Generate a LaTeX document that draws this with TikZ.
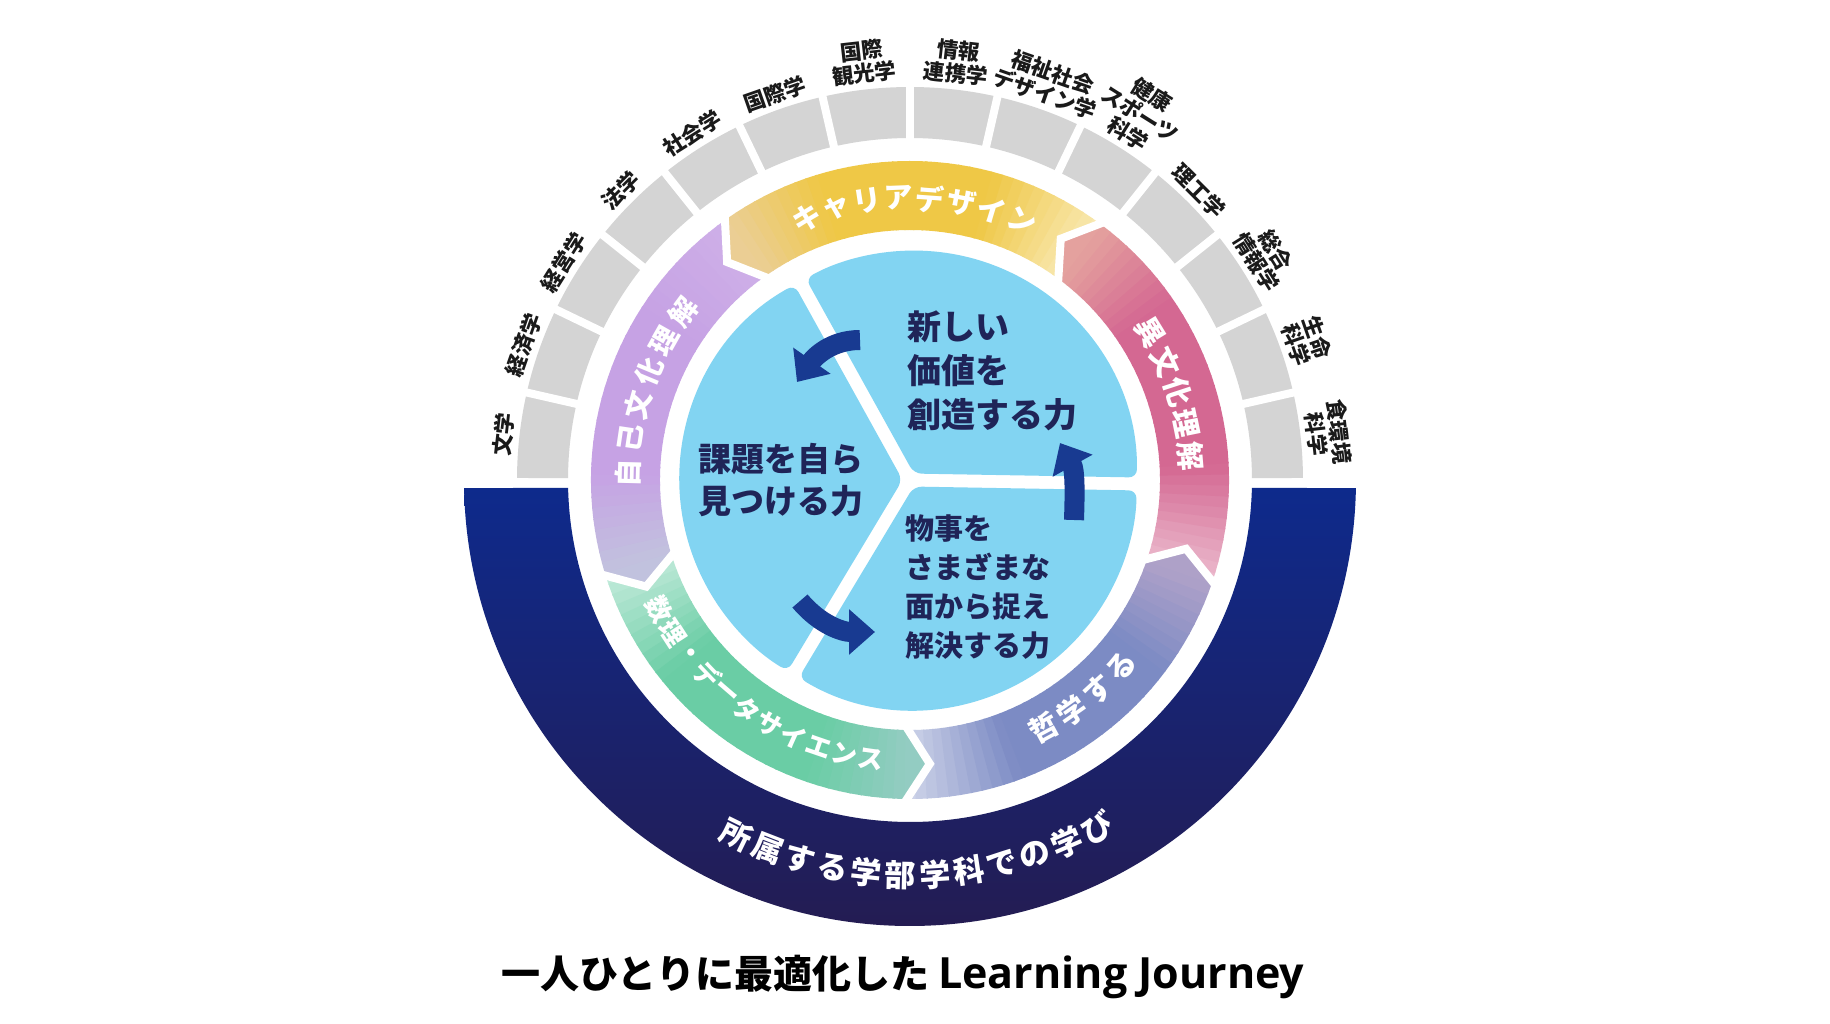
\documentclass[tikz,border=0pt]{standalone}
\usepackage{fontspec}
\setmainfont{Noto Sans CJK JP}
\newfontfamily\titlelatin{Open Sans}
\usetikzlibrary{arrows.meta}
\definecolor{ringY}{RGB}{239,200,70}
\definecolor{ringP}{RGB}{198,162,228}
\definecolor{ringG}{RGB}{106,205,165}
\definecolor{ringB}{RGB}{124,139,196}
\definecolor{ringR}{RGB}{212,104,146}
\definecolor{coreblue}{RGB}{130,212,242}
\definecolor{corenavy}{RGB}{31,36,88}
\definecolor{arrowblue}{RGB}{24,58,145}
\definecolor{bandtop}{RGB}{14,42,140}
\definecolor{bandmid}{RGB}{22,36,118}
\definecolor{bandbot}{RGB}{36,28,82}
\definecolor{blockgray}{RGB}{212,212,212}
\definecolor{depttextc}{RGB}{26,26,26}
\tikzset{
  ringtext/.style={text=white, inner sep=0pt, font=\bfseries},
  depttext/.style={text=depttextc, inner sep=0.5pt, align=center, anchor=south, font=\bfseries\fontsize{21.5}{23}\selectfont},
  coretext/.style={text=corenavy, inner sep=0pt, align=left, anchor=west},
  corearrow/.style={arrowblue, line width=20pt, -{Triangle[width=44pt,length=26pt]}},
  bandtext/.style={text=white, inner sep=0pt, font=\bfseries\fontsize{31}{31}\selectfont}
}
\begin{document}
\begin{tikzpicture}[x=1pt,y=1pt]
	\useasboundingbox (-910,-544) rectangle (920,480);
	\fill[white] (-910,-544) rectangle (920,480);
	\shade[top color=bandtop, middle color=bandmid, bottom color=bandbot] (181.03:446) arc[start angle=181.03, end angle=358.97, radius=446] -- (358.66:342) arc[start angle=358.66, end angle=181.34, radius=342] -- cycle;
	\fill[blockgray] (0.3:393) arc[start angle=0.3, end angle=179.7, radius=393] -- (179.7:342) arc[start angle=179.7, end angle=0.3, radius=342] -- cycle;
	\foreach \i in {1,...,13}{
		\draw[white, line width=8pt] ({\i*180/14}:336) -- ({\i*180/14}:399);
	}
	\foreach \txt [count=\i] in {文学,経済学,経営学,法学,社会学,国際学,{国際\\観光学},{情報\\連携学},{福祉社会\\デザイン学},{健康\\スポーツ\\科学},理工学,{総合\\情報学},{生命\\科学},{食環境\\科学}}{
		\pgfmathsetmacro\th{180-(\i-0.5)*180/14}
		\node[depttext, rotate=\th-90] (dept\i) at (\th:398) {\txt};
	}
	\foreach \aS/\base/\nxt/\tw in {53/ringY/ringP/40,125/ringP/ringG/85,197/ringG/ringB/40,269/ringB/ringR/35,341/ringR/ringY/45}{
		\pgfmathsetmacro\aE{\aS+72}
		\colorlet{tipc}{\nxt!45!white}
		\begin{scope}
			\clip (\aS:319) arc[start angle=\aS, end angle=\aE, radius=319] -- ({\aE+5}:284.5) -- (\aE:250) arc[start angle=\aE, end angle=\aS, radius=250] -- ({\aS+5}:284.5) -- cycle;
			\foreach \k in {0,...,39}{
				\pgfmathsetmacro\ta{\aS-2+\k*2}
				\pgfmathsetmacro\t{max(0,min(1,(\ta+1-\aS)/72))}
				\pgfmathtruncatemacro\wt{min(100,\tw+(100-\tw)*\t/0.3)}
				\pgfmathtruncatemacro\wh{min(100,55+180*(1-\t))}
				\fill[fill=\base!\wt!white!\wh!tipc] (0,0) -- (\ta:330) arc[start angle=\ta, delta angle=2.3, radius=330] -- cycle;
			}
		\end{scope}
	}
	\foreach \b in {53,125,197,269,341}{
		\draw[white, line width=8pt] (\b:323) -- ({\b+5}:284.5) -- (\b:246);
	}
	\foreach \chars/\a/\st/\rot/\fs [count=\s] in {{キ,ャ,リ,ア,デ,ザ,イ,ン}/111.5/-6.4/-90/29,{自,己,文,化,理,解}/178.6/-7.04/-90/28,{異,文,化,理,解}/31.5/-6.68/-90/29,{数,理,・,デ,ー,タ,サ,イ,エ,ン,ス}/207.4/5.46/90/26,{哲,学,す,る}/298.3/6.73/90/29}{
		\foreach \c [count=\i] in \chars{
			\pgfmathsetmacro\th{\a+(\i-1)*\st}
			\node[ringtext, rotate=\th+\rot] (ring\s-\i) at (\th:282) {\fontsize{\fs}{\fs}\selectfont\c};
		}
	}
	\foreach \a in {-1,119,239}{
		\fill[coreblue, rounded corners=8pt, shift={({\a+60}:7.5)}] (0,0) -- (\a:223) arc[start angle=\a, delta angle=120, radius=223] -- cycle;
	}
	\coordinate (tailA) at (-50,140);
	\coordinate (tipA) at (-113,98);
	\coordinate (tailB) at (164,-40);
	\coordinate (tipB) at (150,37);
	\coordinate (tailC) at (-110,-121);
	\coordinate (tipC) at (-35,-152);
	\draw[corearrow] (tailA) to[out=180, in=55] (tipA);
	\draw[corearrow] (tailB) to[out=88, in=-61] (tipB);
	\draw[corearrow] (tailC) to[out=-50, in=180] (tipC);
	\node[coretext, font=\bfseries\fontsize{34}{44}\selectfont] (createpower) at (-3,109) {新しい\\価値を\\創造する力};
	\node[coretext, font=\bfseries\fontsize{33}{42}\selectfont] (findpower) at (-212,0) {課題を自ら\\見つける力};
	\node[coretext, font=\bfseries\fontsize{29}{39}\selectfont] (solvepower) at (-5,-107) {物事を\\さまざまな\\面から捉え\\解決する力};
	\foreach \c [count=\i] in {所,属,す,る,学,部,学,科,で,の,学,び}{
		\pgfmathsetmacro\th{243.9+(\i-1)*4.95}
		\node[bandtext, rotate=\th+90] (band\i) at (\th:395) {\c};
	}
	\node[anchor=base, inner sep=0pt, font=\bfseries] (journey) at (-7,-508) {\fontsize{39}{39}\selectfont 一人ひとりに最適化した {\titlelatin\fontsize{43}{43}\selectfont Learning Journey}};
\end{tikzpicture}
\end{document}
